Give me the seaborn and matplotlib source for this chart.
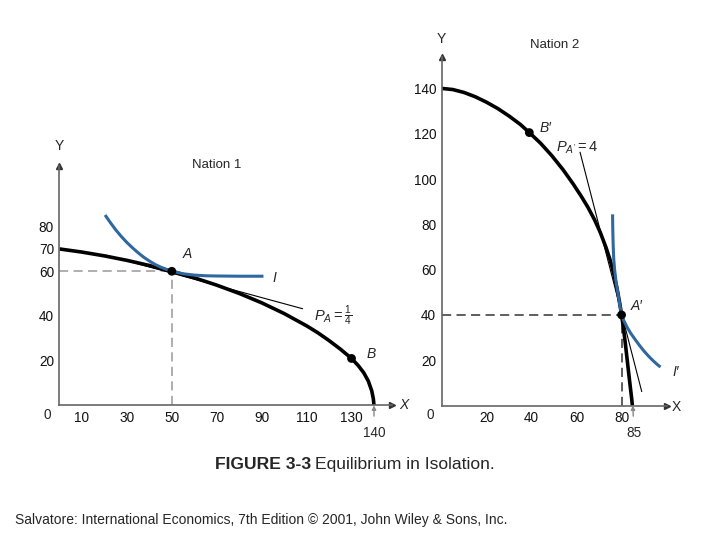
"""
Two-panel production possibility frontier chart: equilibrium in isolation.
"""

import matplotlib

matplotlib.use("Agg")

import matplotlib.pyplot as plt
import pandas as pd
import seaborn as sns


# Nation 1 -- production frontier, indifference curve I, price line at A
ppf1_x = [0, 10, 20, 30, 40, 50, 60, 70, 80, 90, 100, 110, 115, 120, 125, 130,
          133, 135.5, 137.5, 139, 139.7, 140]
ppf1_y = [70, 68.6, 66.9, 64.9, 62.6, 60, 57.1, 53.8, 50.1, 45.9, 41.1, 35.6, 32.5, 29, 25.2, 21,
          17.8, 14.5, 10.8, 6.5, 3, 0]
ic1_x = [20.3, 22.5, 25, 27.5, 30, 32.5, 35, 37.5, 40, 42.5, 45, 47.5, 50, 55, 60, 65, 70, 80, 90.8]
ic1_y = [85.2, 82, 78.6, 75.6, 72.9, 70.5, 68.3, 66.3, 64.6, 63.1, 61.9, 60.9, 60.1, 58.9, 58.3,
         58, 57.9, 57.8, 57.8]
tan1_x = [20.7, 108.4]
tan1_y = [67.2, 43.2]
pts1_x = [50, 130]
pts1_y = [60, 21]
ticks1_x = [10, 30, 50, 70, 90, 110, 130]
ticks1_y = [20, 40, 60, 70, 80]

# Nation 2 -- production frontier, indifference curve I', price line at A'
ppf2_x = [0, 5, 10, 15, 20, 25, 30, 35, 39, 44, 49, 54, 58.5, 62, 65, 68, 70.5, 73, 75,
          76.7, 78.2, 79.2, 80, 80.8, 81.6, 82.4, 83.2, 83.9, 84.5, 84.8]
ppf2_y = [140, 139.5, 138.2, 136.3, 133.9, 131.1, 127.8, 124.1, 120.5, 115.8, 110.3, 104.1, 97.8,
          92.5, 87.6, 82, 76.5, 70, 64, 57.5, 50.5, 45, 40, 34.5, 28, 21, 14, 8, 3, 0]
ic2_x = [76, 76.05, 76.15, 76.3, 76.5, 76.9, 77.5, 78.3, 79.1, 80, 81, 82.5, 84, 86, 88, 90,
         92, 94, 96, 97.3]
ic2_y = [84.4, 80, 75, 70, 65, 60, 55, 50, 45, 40.3, 37.5, 34.5, 32, 29.2, 26.5, 24, 21.8, 19.8,
         18, 17]
tan2_x = [61.5, 89]
tan2_y = [112, 6]
pts2_x = [80, 39]
pts2_y = [40, 120.5]
ticks2_x = [20, 40, 60, 80]
ticks2_y = [20, 40, 60, 80, 100, 120, 140]

BLUE = "#2f67a0"
AXIS = "#666666"

sns.set_theme(style="white")
plt.rcParams["font.family"] = ["Liberation Sans", "DejaVu Sans"]
plt.rcParams["mathtext.fontset"] = "custom"
plt.rcParams["mathtext.it"] = "Liberation Sans:italic"
plt.rcParams["mathtext.rm"] = "Liberation Sans"


def style_axes(ax, xmax, ymax, xticks, yticks):
    ax.set_xlim(0, xmax)
    ax.set_ylim(0, ymax)
    for side in ("top", "right"):
        ax.spines[side].set_visible(False)
    for side in ("left", "bottom"):
        ax.spines[side].set_color(AXIS)
        ax.spines[side].set_linewidth(1.2)
    ax.set_xticks(xticks)
    ax.set_yticks(yticks)
    ax.tick_params(direction="in", length=5, width=1, color=AXIS,
                   labelsize=9.8, labelcolor="#111111", pad=4)
    ax.set_xlabel("")
    ax.set_ylabel("")
    ax.plot(1, 0, ">", color="#333333", ms=4, transform=ax.get_yaxis_transform(), clip_on=False)
    ax.plot(0, 1, "^", color="#333333", ms=4, transform=ax.get_xaxis_transform(), clip_on=False)
    ax.patch.set_alpha(0)


def draw_curve(ax, xs, ys, color, lw):
    sns.lineplot(data=pd.DataFrame({"x": xs, "y": ys}), x="x", y="y", ax=ax,
                 color=color, lw=lw, sort=False, estimator=None,
                 solid_joinstyle="round", solid_capstyle="butt")


fig = plt.figure(figsize=(7.2, 5.4), dpi=100)
ax1 = fig.add_axes([0.0826, 0.2493, 0.4618, 0.4428])
ax2 = fig.add_axes([0.6133, 0.249, 0.3125, 0.646])

# ---- Nation 1 ----
ax1.plot([0, 50], [60, 60], ls=(0, (6, 3.5)), color="#999999", lw=1.1)
ax1.plot([50, 50], [0, 60], ls=(0, (6, 3.5)), color="#999999", lw=1.1)
draw_curve(ax1, tan1_x, tan1_y, "black", 0.8)
draw_curve(ax1, ppf1_x, ppf1_y, "black", 2.6)
draw_curve(ax1, ic1_x, ic1_y, BLUE, 2.2)
sns.scatterplot(x=pts1_x, y=pts1_y, ax=ax1, color="black", s=40, zorder=5, edgecolor="none")
style_axes(ax1, 148, 107, ticks1_x, ticks1_y)

ax1.text(55, 66, "A", fontsize=10, style="italic")
ax1.text(95, 57, "I", fontsize=10, style="italic", va="center")
ax1.text(113.5, 40, r"$P_A = \frac{1}{4}$", fontsize=10.5, va="center")
ax1.text(136.5, 23, "B", fontsize=10, style="italic", va="center")
ax1.text(70, 107.5, "Nation 1", fontsize=9.5, ha="center", va="center")
ax1.text(0, 116, "Y", fontsize=10, ha="center", va="center", clip_on=False)
ax1.text(153.5, 0, "X", fontsize=10, style="italic", ha="center", va="center", clip_on=False)
ax1.text(-5.3, -4.3, "0", fontsize=9.8, ha="center", va="center", clip_on=False)
ax1.annotate("140", xy=(140, 0), xytext=(140, -12.5), fontsize=9.8, ha="center", va="center",
             annotation_clip=False,
             arrowprops=dict(arrowstyle="-|>", color="#888888", lw=1, mutation_scale=6,
                             shrinkA=5, shrinkB=0))

# ---- Nation 2 ----
ax2.plot([0, 80], [40, 40], ls=(0, (6, 3.5)), color="#333333", lw=1.1)
ax2.plot([80, 80], [0, 40], ls=(0, (6, 3.5)), color="#333333", lw=1.1)
draw_curve(ax2, tan2_x, tan2_y, "black", 0.8)
draw_curve(ax2, ppf2_x, ppf2_y, "black", 2.6)
draw_curve(ax2, ic2_x, ic2_y, BLUE, 2.2)
sns.scatterplot(x=pts2_x, y=pts2_y, ax=ax2, color="black", s=40, zorder=5, edgecolor="none")
style_axes(ax2, 100, 154, ticks2_x, ticks2_y)

ax2.text(43.5, 122.5, "B\u2032", fontsize=10, style="italic", va="center")
ax2.text(51, 114, r"$P_{A'} = 4$", fontsize=10.5, va="center")
ax2.text(84, 44, "A\u2032", fontsize=10, style="italic", va="center")
ax2.text(102.5, 14.8, "I\u2032", fontsize=10, style="italic", va="center", clip_on=False)
ax2.text(50.4, 159, "Nation 2", fontsize=9.5, ha="center", va="center", clip_on=False)
ax2.text(0, 162, "Y", fontsize=10, ha="center", va="center", clip_on=False)
ax2.text(104.5, -0.7, "X", fontsize=10, ha="center", va="center", clip_on=False)
ax2.text(-5, -4.3, "0", fontsize=9.8, ha="center", va="center", clip_on=False)
ax2.annotate("85", xy=(85, 0), xytext=(85.5, -12.3), fontsize=9.8, ha="center", va="center",
             annotation_clip=False,
             arrowprops=dict(arrowstyle="-|>", color="#888888", lw=1, mutation_scale=6,
                             shrinkA=5, shrinkB=0))

# ---- captions ----
fig.text(0.432, 0.139, "FIGURE 3-3", fontsize=12.6, fontweight="bold", ha="right", va="center")
fig.text(0.4375, 0.139, "Equilibrium in Isolation.", fontsize=12.6, ha="left", va="center")
fig.text(0.021, 0.037,
         "Salvatore: International Economics, 7th Edition \u00a9 2001, John Wiley & Sons, Inc.",
         fontsize=10, ha="left", va="center")

plt.savefig("out.png", dpi=100)
plt.close()
